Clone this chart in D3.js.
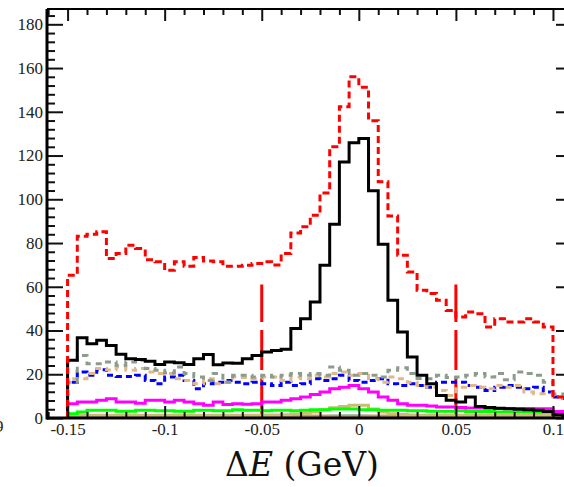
<!DOCTYPE html>
<html>
<head>
<meta charset="utf-8">
<script src="https://cdn.jsdelivr.net/npm/d3@7"></script>
<style>
  body { margin: 0; background: #fff; }
  svg { display: block; }
</style>
</head>
<body>
<div id="chart"></div>
<script>
'use strict'

// bins of 0.005 GeV starting at -0.15
const binStart = -0.15
const binWidth = 0.005

const xTicks = [-0.15, -0.1, -0.05, 0, 0.05, 0.1]
const xTickLabels = ['-0.15', '-0.1', '-0.05', '0', '0.05', '0.1']
const yTicks = [0, 20, 40, 60, 80, 100, 120, 140, 160, 180]
const cutLines = [-0.05, 0.05]
const cutHeight = 61

const redDashed = [65.3, 83.1, 84, 85.1, 72.9, 75.2, 79, 77.5, 72.4, 71.4, 67.5, 71.4, 69.4, 73.4, 71.8, 71.4, 69.4, 69.4,
  69.8, 70.6, 71.4, 70.0, 75.2, 84.6, 87.4, 92.7, 102.9, 124, 142.3, 156, 151.2, 135.9, 108, 92.3, 74.4, 66.8,
  58.4, 56.9, 53.8, 49.2, 46.2, 48.5, 47.7, 41.6, 45.4, 43.9, 43.9, 45.4, 43.9, 41.6, 9.6, 9]
const blackSolid = [26.4, 36.7, 34, 35.5, 33.2, 29.1, 27.1, 26.7, 26.0, 24.5, 25.6, 25.3, 24.5, 27.1, 29.0, 24.4, 25.1, 25.0,
  27.1, 28.6, 30.2, 30.9, 31.4, 40.9, 45.4, 53, 69.8, 88.6, 117.1, 125.8, 127.8, 103.9, 79.4, 53.8, 39.3, 27.9,
  19.5, 15.7, 10.3, 8.1, 7.3, 9.6, 5.3, 4.8, 4.5, 4.2, 4.0, 3.8, 3.5, 3.0, 1.5, 1.2]
const greyDashed = [16.4, 28.6, 24.8, 24.8, 25.6, 24.1, 25.6, 26.4, 22.6, 21.8, 20.6, 23.3, 20.3, 18.7, 17.2, 20.3, 16.4, 19.5,
  19.5, 18.7, 19.5, 18.7, 19.5, 20.3, 19.5, 20.3, 19.5, 23.3, 21.8, 19.5, 20.3, 19.5, 18.7, 21.8, 23, 20.3,
  18.1, 18, 19.5, 18.5, 18.7, 19.5, 20.3, 18.7, 20.3, 17.5, 21, 20.3, 19.5, 16.4, 11, 11]
const tanDashed = [18, 18, 20.3, 22.6, 22, 23.3, 21.8, 22.6, 21, 20.3, 20.3, 18, 17.2, 15.7, 18, 15.7, 16.4, 18.7,
  18.5, 18, 18.7, 18.7, 17.2, 18.7, 18, 19.5, 18.7, 20.3, 21, 19.5, 20.3, 18, 16.4, 18.7, 18, 16.4,
  14.9, 14.1, 12.6, 10.3, 14.1, 14.9, 14.1, 13.4, 14.9, 14.1, 14.9, 11.9, 11.1, 11.1, 9.6, 9]
const blueDashed = [16.4, 21, 19.5, 22.1, 19.5, 19, 19, 19.5, 17.2, 15.7, 18.7, 19.5, 17.2, 13.4, 15.7, 16.4, 17.2, 16.4,
  15.7, 16.4, 15.7, 14.9, 16.4, 14.9, 15.7, 18, 17.2, 18, 19.5, 17.2, 16.4, 17.2, 18, 15.7, 14.9, 15.7,
  14.9, 14.1, 16.4, 16.4, 16.4, 14.9, 14.1, 12.6, 14.1, 14.9, 14.1, 13.4, 14.1, 11.9, 9.6, 9]
const magenta = [6.5, 7.3, 7.3, 8.1, 8.8, 7.3, 7.3, 6.8, 8.1, 8.1, 7.3, 8.1, 7.3, 6.5, 5.8, 7.3, 6.2, 6.5,
  6.3, 6.5, 7.3, 7.3, 8.1, 8.8, 9.6, 10.8, 11.9, 13.4, 14.1, 14.9, 13.4, 11.9, 9.6, 8.1, 6.5, 5.8,
  5.8, 5.5, 5, 5, 4.8, 4.6, 4.6, 4.5, 4.3, 4.3, 4.3, 4.3, 4.2, 4.2, 3, 3]
const green = [2, 2.7, 3.5, 3.5, 3.5, 3.1, 3.1, 3.5, 3.5, 3.3, 3.3, 3.1, 3.1, 3.5, 3.5, 3.3, 3.3, 3.8,
  3.5, 3.5, 3.3, 3.5, 3.5, 3.3, 3.5, 3.8, 3.8, 4.1, 4.1, 4.1, 3.8, 3.8, 3.5, 3.5, 3.5, 3.3,
  3.3, 3.1, 3.1, 3.1, 3.3, 3, 3, 3, 2.8, 2.8, 2.7, 2.7, 2.6, 2.6, 2.2, 2]
const khaki = [1.3, 1.3, 1.3, 1.3, 1.3, 1.3, 1.3, 1.3, 1.3, 1.3, 1.3, 1.3, 1.3, 1.3, 1.3, 1.3, 1.3, 1.3,
  1.3, 1.3, 1.4, 1.4, 1.5, 1.8, 2.2, 2.7, 3.8, 4.7, 5.3, 5.8, 5.8, 4.1, 2.7, 2.0, 1.6, 1.4,
  1.3, 1.3, 1.3, 1.3, 1.3, 1.3, 1.3, 1.3, 1.3, 1.3, 1.3, 1.3, 1.3, 1.3, 1.3, 1.3]
const tanSolid = [1.0, 1.0, 1.0, 1.0, 1.0, 1.0, 1.0, 1.0, 1.0, 1.0, 1.0, 1.0, 1.0, 1.0, 1.0, 1.0, 1.0, 1.0,
  1.0, 1.0, 1.0, 1.0, 1.0, 1.0, 1.0, 1.0, 1.0, 1.0, 1.0, 1.0, 1.0, 1.0, 1.0, 1.0, 1.0, 1.0,
  1.0, 1.0, 1.0, 1.0, 1.0, 1.0, 1.0, 1.0, 1.0, 1.0, 1.0, 1.0, 1.0, 1.0, 1.0, 1.0]
const redSolid = [0.4, 0.4, 0.4, 0.4, 0.4, 0.4, 0.4, 0.4, 0.4, 0.4, 0.4, 0.4, 0.4, 0.4, 0.4, 0.6, 0.6, 0.6,
  0.6, 0.6, 0.6, 0.6, 0.7, 0.7, 0.7, 0.8, 0.8, 0.8, 0.8, 0.8, 0.8, 0.8, 0.7, 0.7, 0.6, 0.6,
  0.6, 0.5, 0.5, 0.5, 0.4, 0.4, 0.4, 0.4, 0.4, 0.4, 0.4, 0.4, 0.4, 0.4, 0.4, 0.4]
const cyan = [0.2, 0.2, 0.2, 0.2, 0.2, 0.2, 0.2, 0.2, 0.2, 0.2, 0.2, 0.2, 0.2, 0.2, 0.2, 0.2, 0.2, 0.2,
  0.2, 0.2, 0.2, 0.2, 0.2, 0.3, 0.4, 0.6, 0.8, 1.0, 1.1, 1.1, 1.0, 0.8, 0.6, 0.4, 0.3, 0.2,
  0.2, 0.2, 0.2, 0.2, 0.2, 0.2, 0.2, 0.2, 0.2, 0.2, 0.2, 0.2, 0.2, 0.2, 0.2, 0.2]

const series = [
  {values: cyan, color: '#00e0f0', width: 2, dash: null},
  {values: redSolid, color: '#e03030', width: 2, dash: null},
  {values: tanSolid, color: '#c89860', width: 2.5, dash: null},
  {values: khaki, color: '#c8c070', width: 3, dash: null},
  {values: green, color: '#00ff00', width: 3, dash: null},
  {values: magenta, color: '#ff00ff', width: 3, dash: null},
  {values: blueDashed, color: '#0000ff', width: 3, dash: '6,4'},
  {values: tanDashed, color: '#e2b888', width: 3, dash: '6,5'},
  {values: greyDashed, color: '#8c9c8c', width: 3, dash: '6,5'},
  {values: blackSolid, color: '#000000', width: 3, dash: null},
  {values: redDashed, color: '#ff0000', width: 3, dash: '7,4'}
]

const W = 564, H = 487
const plot = {left: 47, right: 572, top: 9, bottom: 418}
const tickFont = '"Liberation Serif", "Times New Roman", serif'

const x = d3.scaleLinear().domain([-0.1606, 0.1098]).range([plot.left, plot.right])
const y = d3.scaleLinear().domain([0, 187]).range([plot.bottom, plot.top])

const svg = d3.select('#chart').append('svg')
  .attr('width', W)
  .attr('height', H)
  .style('font-family', tickFont)

svg.append('defs').append('clipPath').attr('id', 'clip')
  .append('rect')
    .attr('x', plot.left).attr('y', plot.top)
    .attr('width', plot.right - plot.left).attr('height', plot.bottom - plot.top)

const g = svg.append('g').attr('clip-path', 'url(#clip)')

// cut lines
g.selectAll('.cut').data(cutLines).enter()
  .append('line')
    .attr('class', 'cut')
    .attr('x1', d => x(d)).attr('x2', d => x(d))
    .attr('y1', y(0)).attr('y2', y(cutHeight))
    .attr('stroke', '#ff0000')
    .attr('stroke-width', 3)
    .attr('stroke-dasharray', '40,8')

// step histogram path
function stepPath(values) {
  let p = d3.path()
  p.moveTo(x(binStart), y(0))
  values.forEach((v, i) => {
    let x0 = x(binStart + i * binWidth)
    let x1 = x(binStart + (i + 1) * binWidth)
    p.lineTo(x0, y(v))
    p.lineTo(x1, y(v))
  })
  return p.toString()
}

g.selectAll('.hist').data(series).enter()
  .append('path')
    .attr('class', 'hist')
    .attr('d', d => stepPath(d.values))
    .attr('fill', 'none')
    .attr('stroke', d => d.color)
    .attr('stroke-width', d => d.width)
    .attr('stroke-dasharray', d => d.dash)
    .attr('stroke-linejoin', 'miter')

// axes
const minorY = d3.range(0, 187, 4).filter(v => v % 20 !== 0)
const minorX = d3.range(-16, 11).map(v => v / 100).filter(v => Math.abs(Math.round(v * 100)) % 5 !== 0)

function styleAxis(sel) {
  sel.attr('font-family', tickFont)
  sel.select('.domain').remove()
  sel.selectAll('line').attr('stroke', '#111').attr('stroke-width', 2)
  sel.selectAll('text').attr('fill', '#222').style('font-family', tickFont).style('font-size', '17px')
}

svg.append('g').attr('transform', `translate(${plot.left},0)`)
  .call(d3.axisLeft(y).tickValues(yTicks).tickSize(-16).tickPadding(4))
  .call(styleAxis)
svg.append('g').attr('transform', `translate(${plot.left},0)`)
  .call(d3.axisLeft(y).tickValues(minorY).tickSize(-8).tickFormat(''))
  .call(styleAxis)
svg.append('g').attr('transform', `translate(${plot.right},0)`)
  .call(d3.axisRight(y).tickValues(yTicks).tickSize(-16).tickFormat(''))
  .call(styleAxis)
svg.append('g').attr('transform', `translate(${plot.right},0)`)
  .call(d3.axisRight(y).tickValues(minorY).tickSize(-8).tickFormat(''))
  .call(styleAxis)

svg.append('g').attr('transform', `translate(0,${plot.bottom})`)
  .call(d3.axisBottom(x).tickValues(xTicks).tickSize(-12).tickPadding(5)
    .tickFormat((d, i) => xTickLabels[i]))
  .call(styleAxis)
svg.append('g').attr('transform', `translate(0,${plot.bottom})`)
  .call(d3.axisBottom(x).tickValues(minorX).tickSize(-6).tickFormat(''))
  .call(styleAxis)
svg.append('g').attr('transform', `translate(0,${plot.top})`)
  .call(d3.axisTop(x).tickValues(xTicks).tickSize(-12).tickFormat(''))
  .call(styleAxis)
svg.append('g').attr('transform', `translate(0,${plot.top})`)
  .call(d3.axisTop(x).tickValues(minorX).tickSize(-6).tickFormat(''))
  .call(styleAxis)

// frame
svg.append('line').attr('x1', plot.left).attr('x2', plot.left).attr('y1', plot.top).attr('y2', plot.bottom + 1.5)
  .attr('stroke', '#000').attr('stroke-width', 3)
svg.append('line').attr('x1', plot.left).attr('x2', plot.right).attr('y1', plot.bottom).attr('y2', plot.bottom)
  .attr('stroke', '#000').attr('stroke-width', 3)
svg.append('line').attr('x1', plot.left).attr('x2', plot.right).attr('y1', plot.top).attr('y2', plot.top)
  .attr('stroke', '#000').attr('stroke-width', 2)
svg.append('line').attr('x1', plot.right).attr('x2', plot.right).attr('y1', plot.top).attr('y2', plot.bottom)
  .attr('stroke', '#000').attr('stroke-width', 2)

// stray glyph of the neighbouring panel
svg.append('text').attr('x', -5).attr('y', 432).text('9')
  .style('font-size', '17px').attr('fill', '#222')

// x title
const title = svg.append('text')
  .attr('x', 302).attr('y', 476)
  .attr('text-anchor', 'middle')
  .style('font-family', '"DejaVu Serif", serif')
  .style('font-size', '33px')
  .attr('fill', '#111')
title.append('tspan').text('Δ')
title.append('tspan').style('font-style', 'italic').text('E')
title.append('tspan').text(' (GeV)')
</script>
</body>
</html>
